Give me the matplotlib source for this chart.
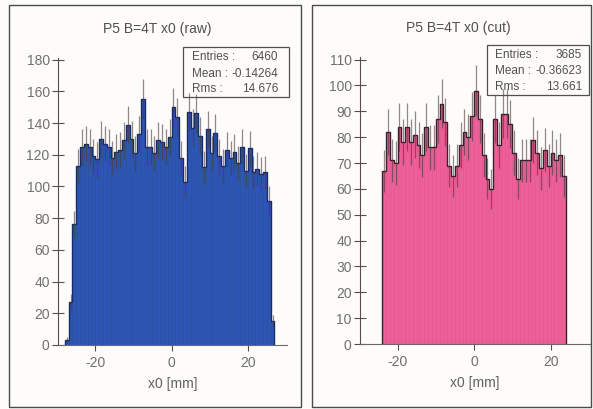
import numpy as np
import matplotlib
matplotlib.use("Agg")
import matplotlib.pyplot as plt
from matplotlib.patches import Rectangle

plt.rcParams['font.family'] = ['Liberation Sans', 'DejaVu Sans']
plt.rcParams['axes.unicode_minus'] = False

# x0 histograms, 1 mm bins
bin_width = 1.0

raw_first_edge = -28
raw_counts = [3, 27, 76,
              113, 125, 127, 125, 119, 117, 130, 127, 125, 118, 122, 123, 129,
              139, 130, 121, 133, 155, 125, 125, 121, 129, 128, 125, 131,
              150, 144, 118, 103, 147, 137, 146, 132, 112, 136, 121, 134, 119,
              113, 123, 118, 122, 115, 125, 110, 124, 109, 111, 108, 109, 91,
              15]
raw_title = "P5 B=4T x0 (raw)"
raw_mean = "-0.14264"
raw_rms = "14.676"

cut_first_edge = -24
cut_counts = [67, 82, 71, 70, 84, 78, 84, 78, 81, 77, 73, 84, 76, 76, 87, 93,
              86, 69, 65, 69, 77, 82, 80, 88, 98, 87, 73, 64, 60, 87, 77, 89,
              89, 85, 74, 64, 71, 71, 71, 79, 74, 68, 75, 69, 74, 71, 73, 65]
cut_title = "P5 B=4T x0 (cut)"
cut_mean = "-0.36623"
cut_rms = "13.661"

W, H = 593, 409
fig = plt.figure(figsize=(W / 100, H / 100), dpi=100)
fig.patch.set_facecolor('#fdfcfa')


def fx(px):
    return px / W


def fy(py):
    return 1 - py / H


# panel frames
for x0, x1 in [(9, 301), (312, 591)]:
    fig.patches.append(Rectangle((fx(x0), fy(407)), fx(x1 - x0), (407 - 5) / H,
                                 transform=fig.transFigure, fill=False,
                                 edgecolor='#4a4a4a', linewidth=1.0))


def draw_panel(rect, counts, first_edge, ylim, yticks, face, edge, outline,
               title, title_xy, mean, rms, box, rows, label_x, value_x):
    counts = np.asarray(counts, dtype=float)
    edges = first_edge + bin_width * np.arange(len(counts) + 1)
    centers = 0.5 * (edges[:-1] + edges[1:])

    ax = fig.add_axes(rect)
    ax.set_facecolor('none')
    ax.bar(centers, counts, width=bin_width, color=face, edgecolor=edge,
           linewidth=0.5, zorder=2)
    ax.stairs(counts, edges, color=outline, linewidth=1.0, zorder=3)
    ax.errorbar(centers, counts, yerr=np.sqrt(counts), fmt='none',
                ecolor=(0.3, 0.22, 0.22), alpha=0.6, elinewidth=0.9,
                capsize=0, zorder=4)

    ax.set_xlim(-29.8, 30.3)
    ax.set_ylim(*ylim)
    ax.set_yticks(yticks)
    ax.set_xticks([-20, 0, 20])
    for s in ['top', 'right']:
        ax.spines[s].set_visible(False)
    ax.spines['left'].set_color('#5a4c48')
    ax.spines['bottom'].set_color('#6a6a6a')
    ax.tick_params(axis='y', direction='inout', length=8, width=0.8,
                   color='#5a4c48', labelsize=10, labelcolor='#707070', pad=2)
    ax.tick_params(axis='x', direction='out', length=4, width=0.8,
                   color='#5a4c48', labelsize=10, labelcolor='#707070', pad=4)
    ax.set_xlabel('x0 [mm]', fontsize=10, color='#606060', labelpad=5)

    fig.text(fx(title_xy[0]), fy(title_xy[1]), title, fontsize=10,
             color='#505050', ha='center', va='center')

    bx0, by0, bx1, by1 = box
    fig.patches.append(Rectangle((fx(bx0), fy(by1)), fx(bx1 - bx0), (by1 - by0) / H,
                                 transform=fig.transFigure, fill=False,
                                 edgecolor='#505050', linewidth=0.9, zorder=1))
    stats = [("Entries :", f"{int(counts.sum())}"),
             ("Mean :", mean),
             ("Rms :", rms)]
    for (lab, val), ry in zip(stats, rows):
        fig.text(fx(label_x), fy(ry), lab, fontsize=8.5, color='#505050',
                 ha='left', va='center')
        fig.text(fx(value_x), fy(ry), val, fontsize=8.5, color='#505050',
                 ha='right', va='center')
    return ax


draw_panel([fx(58), fy(345), fx(287 - 58), (345 - 58) / H],
           raw_counts, raw_first_edge, (0, 181), np.arange(0, 181, 20),
           '#2b56b4', '#2a4c9c', '#1a2c66',
           raw_title, (157, 29), raw_mean, raw_rms,
           (183, 47, 289, 97), (57, 74, 89.5), 192, 278)

draw_panel([fx(360), fy(344), fx(590 - 360), (344 - 57) / H],
           cut_counts, cut_first_edge, (0, 111), np.arange(0, 111, 10),
           '#ec5f98', '#e4568f', '#3a1e2c',
           cut_title, (458, 28), cut_mean, cut_rms,
           (487, 45, 589, 95), (55, 71, 87), 495, 582)

fig.savefig('out.png', dpi=100, facecolor=fig.get_facecolor())
